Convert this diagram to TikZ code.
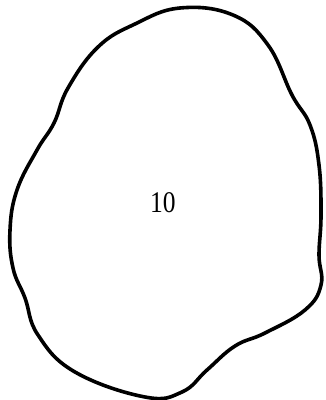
\documentclass[tikz,border=0pt]{standalone}
\usepackage{fontspec}
\setmainfont{Liberation Serif}
\begin{document}
\begin{tikzpicture}[x=1pt,y=-1pt,
  blob/.style={line width=3.6pt,line join=round},
  lbl/.style={font=\fontsize{30}{30}\selectfont,inner sep=0pt}]
\useasboundingbox (0,0) rectangle (325,400);
\draw[blob] plot[smooth cycle,tension=0.7] coordinates {
 (180,8) (233,15) (268,45) (292,95) (310,125) (319,165) (321,215)
 (319,255) (321,285) (305,310) (265,333) (235,346) (207,370) (182,392)
 (145,397) (75,372) (38,335) (25,298) (13,268) (10,230) (17,190)
 (37,150) (54,123) (68,88) (98,47) (135,24) };
\node[lbl] (t) at (163,203) {\scalebox{0.85}[1]{10}};
\end{tikzpicture}
\end{document}
